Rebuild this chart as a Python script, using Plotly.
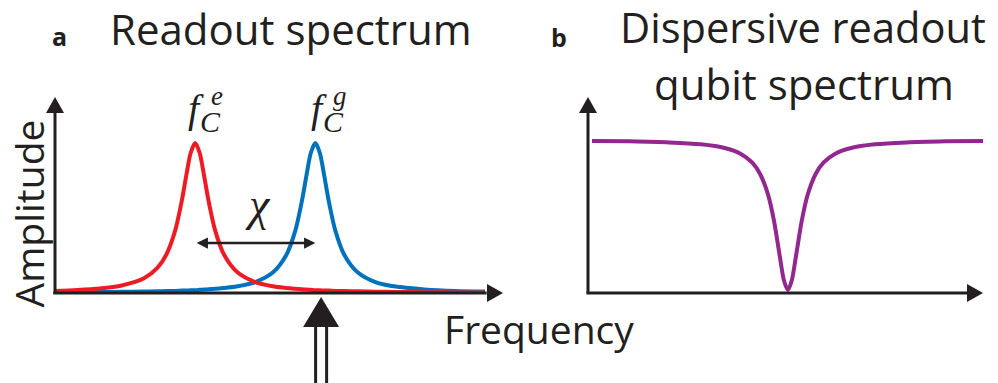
import plotly.graph_objects as go

W, H = 998, 383

INK = "#231f20"
RED = "#ed1c24"
BLUE = "#0072bc"
PURPLE = "#92278f"

# ---- panel a: readout resonator amplitude vs frequency (arbitrary units) ----
freq_a = [0, 0.5, 1.0, 1.5, 2.0, 2.3, 2.5, 2.7, 2.85, 2.95, 3.05, 3.15, 3.25,
          3.35, 3.45, 3.6, 3.8, 4.1, 4.5, 4.9, 5.2, 5.4, 5.55, 5.65, 5.75, 5.85,
          5.95, 6.05, 6.15, 6.3, 6.5, 6.8, 7.2, 7.7, 8.3, 9.0, 9.66]
amp_excited = [0.014, 0.020, 0.030, 0.050, 0.098, 0.167, 0.255, 0.416, 0.616,
               0.783, 0.935, 1.000, 0.935, 0.783, 0.616, 0.416, 0.255, 0.138,
               0.073, 0.045, 0.033, 0.028, 0.025, 0.023, 0.021, 0.019, 0.018,
               0.017, 0.016, 0.014, 0.013, 0.011, 0.009, 0.007, 0.005, 0.004,
               0.003]
amp_ground = [0.004, 0.005, 0.006, 0.008, 0.010, 0.011, 0.013, 0.014, 0.016,
              0.017, 0.018, 0.019, 0.021, 0.023, 0.025, 0.028, 0.033, 0.045,
              0.073, 0.138, 0.255, 0.416, 0.616, 0.783, 0.935, 1.000, 0.935,
              0.783, 0.616, 0.416, 0.255, 0.138, 0.073, 0.041, 0.024, 0.014,
              0.010]
f_excited = 3.15      # f_C^e
f_ground = 5.85       # f_C^g
f_readout = 5.98      # probe tone
chi_level = 0.333     # height of the chi arrow

# ---- panel b: qubit spectrum measured through the readout ----
freq_b = [0.1, 1.06, 2.06, 2.86, 3.46, 3.86, 4.16, 4.36, 4.56, 4.71, 4.86, 4.96,
          5.06, 5.16, 5.26, 5.41, 5.56, 5.76, 5.96, 6.26, 6.66, 7.26, 8.06, 9.06,
          10.0]
qubit_signal = [1.014, 1.011, 1.004, 0.991, 0.967, 0.929, 0.869, 0.792, 0.654,
                0.479, 0.237, 0.085, 0.020, 0.085, 0.237, 0.479, 0.654, 0.792,
                0.869, 0.929, 0.967, 0.991, 1.004, 1.011, 1.014]


def px(x):
    return x / W


def py(y):
    return 1 - y / H


fig = go.Figure()
fig.add_trace(go.Scatter(x=freq_a, y=amp_ground, mode="lines", hoverinfo="skip",
                         line=dict(color=BLUE, width=4, shape="spline", smoothing=0.8),
                         xaxis="x", yaxis="y"))
fig.add_trace(go.Scatter(x=freq_a, y=amp_excited, mode="lines", hoverinfo="skip",
                         line=dict(color=RED, width=4, shape="spline", smoothing=0.8),
                         xaxis="x", yaxis="y"))
fig.add_trace(go.Scatter(x=freq_b, y=qubit_signal, mode="lines", hoverinfo="skip",
                         line=dict(color=PURPLE, width=4, shape="spline", smoothing=0.8),
                         xaxis="x2", yaxis="y2"))

ydom = [py(293), py(97)]
yrng = [0, 196 / 150]
hidden = dict(visible=False, showgrid=False, zeroline=False, fixedrange=True)
fig.update_layout(
    width=W, height=H, margin=dict(l=0, r=0, t=0, b=0),
    paper_bgcolor="white", plot_bgcolor="rgba(0,0,0,0)", showlegend=False,
    xaxis=dict(domain=[px(55), px(500)], range=[0, 10], anchor="y", **hidden),
    yaxis=dict(domain=ydom, range=yrng, anchor="x", **hidden),
    xaxis2=dict(domain=[px(588), px(983)], range=[0, 10], anchor="y2", **hidden),
    yaxis2=dict(domain=ydom, range=yrng, anchor="x2", **hidden),
)

shapes = []
for xr, yr, tip_dx in (("x domain", "y domain", 3), ("x2 domain", "y2 domain", 0)):
    # axis lines
    shapes.append(dict(type="line", xref=xr, yref=yr, x0=-0.004, x1=0.97, y0=0, y1=0,
                       line=dict(color=INK, width=3)))
    shapes.append(dict(type="line", xref=xr, yref=yr, x0=0, x1=0, y0=0, y1=0.95,
                       line=dict(color=INK, width=3)))
    # arrowheads
    shapes.append(dict(type="path", xref=xr, yref=yr, xsizemode="pixel", ysizemode="pixel",
                       xanchor=0, yanchor=1, path="M 0 0 L -9 -16 L 9 -16 Z",
                       fillcolor=INK, line=dict(width=0)))
    shapes.append(dict(type="path", xref=xr, yref=yr, xsizemode="pixel", ysizemode="pixel",
                       xanchor=1, yanchor=0,
                       path=f"M {tip_dx} 0 L {tip_dx - 16} 9 L {tip_dx - 16} -9 Z",
                       fillcolor=INK, line=dict(width=0)))

# probe-tone arrow under the frequency axis
shapes.append(dict(type="path", xref="x", yref="y domain", xsizemode="pixel",
                   ysizemode="pixel", xanchor=f_readout, yanchor=0,
                   path="M 0 -4 L -18 -34 L 18 -34 Z", fillcolor=INK, line=dict(width=0)))
for dx in (-5.5, 5.5):
    shapes.append(dict(type="line", xref="x", yref="y domain", xsizemode="pixel",
                       ysizemode="pixel", xanchor=f_readout, yanchor=0,
                       x0=dx, x1=dx, y0=-33, y1=-95, line=dict(color=INK, width=3)))
fig.update_layout(shapes=shapes)

ann = []
SANS = "Open Sans"
SERIF = "Liberation Serif"


def label(text, x, y, size, family=SANS, **kw):
    ann.append(dict(text=text, x=px(x), y=py(y), xref="paper", yref="paper",
                    showarrow=False, xanchor="center", yanchor="middle",
                    font=dict(family=family, size=size, color=INK), **kw))


label("<b>a</b>", 59, 35.7, 25)
label("Readout spectrum", 290.5, 28.7, 42)
label("<b>b</b>", 558.5, 37.4, 25)
label("Dispersive readout", 803, 26.7, 41.6)
label("qubit spectrum", 803.5, 83.7, 42)
label("Amplitude", 28, 213.5, 39, textangle=-90)
label("Frequency", 538.5, 328, 39)


def peak_label(f0, sup, dx):
    for txt, size, sx, y in (("f", 40, dx, 108), ("C", 30, dx + 14, 121),
                             (sup, 27, dx + 21, 96)):
        ann.append(dict(text=txt, x=f0, xref="x", xshift=sx,
                        y=py(y), yref="paper", showarrow=False,
                        xanchor="center", yanchor="middle",
                        font=dict(family=SERIF, size=size, color=INK, style="italic")))


peak_label(f_excited, "e", 1)
peak_label(f_ground, "g", 4)

# dispersive shift chi between the two resonances
ann.append(dict(x=f_ground, y=chi_level, ax=f_excited, ay=chi_level, xref="x", yref="y",
                axref="x", ayref="y", text="", showarrow=True, arrowside="end+start",
                arrowhead=2, startarrowhead=2, arrowwidth=2.5, arrowsize=0.9,
                startarrowsize=0.9, arrowcolor=INK))
ann.append(dict(text="χ", x=(f_excited + f_ground) / 2, xref="x", xshift=3,
                y=py(204), yref="paper", showarrow=False, xanchor="center",
                yanchor="middle",
                font=dict(family=SERIF, size=46, color=INK, style="italic")))

fig.update_layout(annotations=ann)
fig.write_html("out.html")
